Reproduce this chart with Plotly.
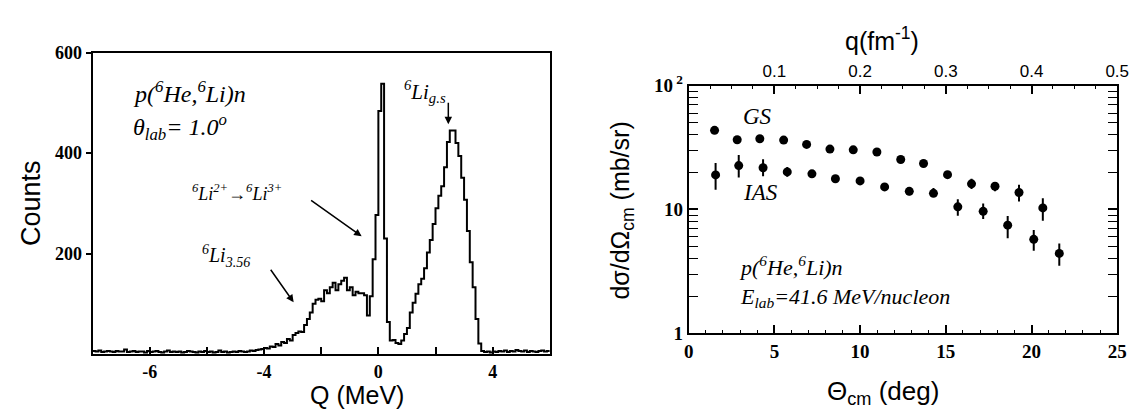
import plotly.graph_objects as go

# ---------------- data: left panel (Q-value spectrum) ----------------
bin_lo = -10.0
bin_width = 0.1
counts = [
    6, 5, 7, 4, 5, 6, 5, 4, 6, 5,        # -10.0 .. -9.1
    5, 9, 4, 5, 6, 4, 5, 5, 3, 6,        # -9.0 .. -8.1
    4, 5, 6, 4, 3, 5, 7, 4, 5, 4,        # -8.0 .. -7.1
    5, 3, 4, 6, 5, 4, 3, 5, 4, 6,        # -7.0 .. -6.1
    4, 5, 3, 4, 7, 4, 5, 3, 4, 5,        # -6.0 .. -5.1
    4, 6, 5, 4, 5, 7, 6, 8, 9, 10,       # -5.0 .. -4.1
    12, 11, 15, 14, 20, 17, 24, 22, 30, 27,   # -4.0 .. -3.1
    38, 42, 45, 44, 58, 70, 83, 100, 108, 110,  # -3.0 .. -2.1
    105, 127, 121, 133, 142, 127, 139, 146, 152, 127,  # -2.0 .. -1.1
    133, 117, 124, 121, 121, 117, 77, 115, 189, 277,   # -1.0 .. -0.1
    484, 538, 230, 64, 27, 28, 22, 20, 27, 40,         # 0.0 .. 0.9
    52, 83, 102, 120, 139, 150, 171, 202, 227, 259,    # 1.0 .. 1.9
    290, 315, 334, 372, 422, 445, 445, 420, 394, 351,  # 2.0 .. 2.9
    307, 245, 183, 133, 70, 21, 6, 4, 5, 3,            # 3.0 .. 3.9
    5, 4, 6, 5, 7, 4, 6, 5, 8, 6,                      # 4.0 .. 4.9
    5, 7, 4, 6, 5, 4, 6, 7, 5, 6,                      # 5.0 .. 5.9
]
q_tickvals = [-8, -4, 0, 4]
q_ticktext = ["-6", "-4", "0", "4"]   # labels as printed in the figure
counts_tickvals = [200, 400, 600]

# ---------------- data: right panel (angular distributions) ----------------
theta_gs = [1.51, 2.83, 4.15, 5.54, 6.88, 8.24, 9.60, 10.98, 12.37, 13.70, 15.10, 16.50, 17.87, 19.27, 20.66]
xs_gs = [43.5, 36.5, 37.2, 36.3, 33.5, 30.7, 30.3, 29.1, 25.3, 23.5, 19.1, 16.1, 15.4, 13.7, 10.3]
err_gs_plus = [1.2, 1.0, 1.0, 1.0, 1.0, 1.0, 1.0, 1.0, 1.0, 1.0, 1.0, 1.6, 1.1, 2.1, 2.0]
err_gs_minus = [1.2, 1.0, 1.0, 1.0, 1.0, 1.0, 1.0, 1.0, 1.0, 1.0, 1.0, 1.5, 1.4, 2.1, 2.2]

theta_ias = [1.57, 2.92, 4.34, 5.75, 7.19, 8.56, 10.0, 11.43, 12.87, 14.28, 15.70, 17.18, 18.61, 20.13, 21.62]
xs_ias = [19.0, 22.6, 21.7, 20.1, 19.4, 17.7, 17.0, 15.2, 14.0, 13.5, 10.5, 9.66, 7.47, 5.74, 4.42]
err_ias_plus = [4.7, 4.9, 3.7, 1.9, 1.0, 1.0, 1.0, 1.0, 1.0, 1.4, 1.6, 1.5, 1.4, 1.1, 0.9]
err_ias_minus = [4.6, 4.5, 3.2, 1.7, 1.0, 1.0, 1.0, 1.0, 1.0, 0.8, 1.6, 1.3, 1.6, 1.1, 0.9]

theta_tickvals = [0, 5, 10, 15, 20, 25]
q_top_tickvals = [0.1, 0.2, 0.3, 0.4, 0.5]
xs_tickvals = [1, 10, 100]
xs_ticktext = ["1", "10", "10<sup> 2</sup>"]
xs_minor = [2, 3, 4, 5, 6, 7, 8, 9, 20, 30, 40, 50, 60, 70, 80, 90]

# ---------------- figure ----------------
W, H = 1144, 416
SERIF = "Liberation Serif"
SANS = "Liberation Sans"


def px(x):
    return x / W


def py(y):
    return 1 - y / H


# histogram outline drawn as steps over the bin edges
edges = [bin_lo + i * bin_width for i in range(len(counts) + 1)]
step_y = counts + [counts[-1]]

fig = go.Figure()
fig.add_trace(go.Scatter(
    x=edges, y=step_y, mode="lines", line=dict(color="black", width=2, shape="hv"),
    xaxis="x", yaxis="y", hoverinfo="skip"))

err_style = dict(type="data", symmetric=False, color="black", thickness=2, width=0)
fig.add_trace(go.Scatter(
    x=theta_gs, y=xs_gs, mode="markers", marker=dict(color="black", size=9),
    error_y=dict(array=err_gs_plus, arrayminus=err_gs_minus, **err_style),
    xaxis="x2", yaxis="y2", name="GS"))
fig.add_trace(go.Scatter(
    x=theta_ias, y=xs_ias, mode="markers", marker=dict(color="black", size=9),
    error_y=dict(array=err_ias_plus, arrayminus=err_ias_minus, **err_style),
    xaxis="x2", yaxis="y2", name="IAS"))
# the top q axis belongs to the same subplot
fig.add_trace(go.Scatter(x=[], y=[], xaxis="x3", yaxis="y2", hoverinfo="skip"))

axis_common = dict(showgrid=False, zeroline=False, showline=True, linecolor="black",
                   linewidth=2, tickcolor="black")

fig.update_layout(
    width=W, height=H, margin=dict(l=0, r=0, t=0, b=0),
    paper_bgcolor="white", plot_bgcolor="white", showlegend=False,
    xaxis=dict(domain=[px(89), px(553)], anchor="y", range=[-10, 6],
               tickmode="array", tickvals=q_tickvals, ticktext=q_ticktext,
               ticks="inside", ticklen=7, tickwidth=1.5, mirror=True,
               minor=dict(dtick=2, ticks="inside", ticklen=7, tickwidth=1.5, tickcolor="black"),
               tickfont=dict(family=SERIF, size=18, color="black", weight="bold"),
               **axis_common),
    yaxis=dict(domain=[py(362), py(42)], anchor="x", range=[0, 600],
               tickmode="array", tickvals=counts_tickvals,
               ticks="outside", ticklen=5, tickwidth=2, mirror=True,
               tickfont=dict(family=SERIF, size=18, color="black", weight="bold"),
               **axis_common),
    xaxis2=dict(domain=[px(694), px(1129)], anchor="y2", range=[0, 25],
                tickmode="array", tickvals=theta_tickvals,
                ticks="inside", ticklen=8, tickwidth=1.5, mirror=False,
                minor=dict(dtick=1, ticks="inside", ticklen=3, tickwidth=1, tickcolor="black"),
                tickfont=dict(family=SERIF, size=19, color="black", weight="bold"),
                **axis_common),
    xaxis3=dict(overlaying="x2", anchor="y2", side="top", range=[0, 0.5],
                tickmode="array", tickvals=q_top_tickvals,
                ticks="inside", ticklen=8, tickwidth=1.5,
                minor=dict(dtick=0.025, ticks="inside", ticklen=3, tickwidth=1, tickcolor="black"),
                tickfont=dict(family=SANS, size=17, color="black"),
                **axis_common),
    yaxis2=dict(domain=[py(340), py(77)], anchor="x2", type="log", range=[0, 2],
                tickmode="array", tickvals=xs_tickvals, ticktext=xs_ticktext,
                ticks="inside", ticklen=9, tickwidth=1.5, mirror="allticks",
                minor=dict(tickmode="array", tickvals=xs_minor, ticks="inside", ticklen=4,
                           tickwidth=1, tickcolor="black"),
                tickfont=dict(family=SERIF, size=19, color="black", weight="bold"),
                **axis_common),
)

ann = []


def text(x, y, s, size, family=SERIF, italic=True, xanchor="left", angle=0):
    ann.append(dict(xref="paper", yref="paper", x=px(x), y=py(y), text=s, showarrow=False,
                    xanchor=xanchor, yanchor="middle", textangle=angle, align="left",
                    font=dict(family=family, size=size, color="black",
                              style="italic" if italic else "normal")))


def arrow(x0, y0, x1, y1):
    ann.append(dict(xref="paper", yref="paper", x=px(x1), y=py(y1), ax=x0 - x1, ay=y0 - y1,
                    axref="pixel", ayref="pixel", text="", showarrow=True,
                    arrowhead=2, arrowsize=1, arrowwidth=1.5, arrowcolor="black"))


# axis titles
text(27, 202, "Counts", 27, family=SANS, italic=False, xanchor="center", angle=-90)
text(357, 405, "Q (MeV)", 25, family=SANS, italic=False, xanchor="center")
text(626, 210, "dσ/dΩ<sub>cm</sub> (mb/sr)", 25, family=SANS, italic=False, xanchor="center", angle=-90)
text(891, 403, "Θ<sub>cm</sub> (deg)", 26, family=SANS, italic=False, xanchor="center")
text(890, 28, "q(fm<sup>-1</sup>)", 25, family=SANS, italic=False, xanchor="center")

# left panel labels
text(128, 84, "p(<sup>6</sup>He,<sup>6</sup>Li)n", 24)
text(128, 121, "θ<sub>lab</sub>= 1.0<sup>o</sup>", 24)
text(403, 83, "<sup>6</sup>Li<sub>g.s</sub>", 21)
text(188, 190, "<sup>6</sup>Li<sup>2+</sup>→<sup>6</sup>Li<sup>3+</sup>", 18)
text(198, 258, "<sup>6</sup>Li<sub>3.56</sub>", 20)
arrow(450, 95, 450, 118)
arrow(310, 200, 362, 237)
arrow(269, 273, 293, 307)

# right panel labels
text(747, 110, "GS", 23)
text(747, 190, "IAS", 23)
text(743, 285, "p(<sup>6</sup>He,<sup>6</sup>Li)n<br>E<sub>lab</sub>=41.6 MeV/nucleon", 22)

fig.update_layout(annotations=ann)
fig.write_html("out.html", config={"displayModeBar": False},
               post_script="document.body.style.margin='0';")
